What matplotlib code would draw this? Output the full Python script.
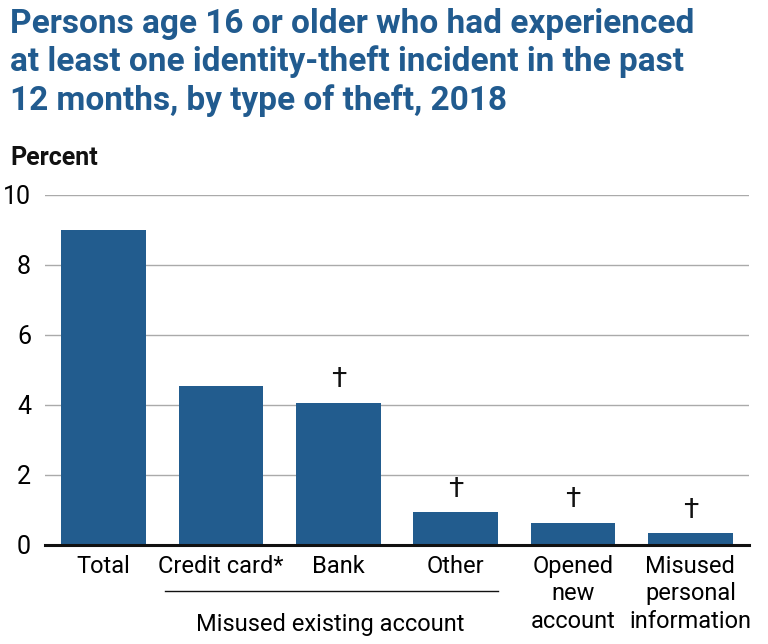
import matplotlib
matplotlib.use("Agg")
import matplotlib.pyplot as plt

plt.rcParams['font.family'] = ['Roboto', 'DejaVu Sans']

categories = ["Total", "Credit card*", "Bank", "Other", "Opened\nnew\naccount", "Misused\npersonal\ninformation"]
values = [9.0, 4.55, 4.05, 0.93, 0.64, 0.33]
dagger = [False, False, True, True, True, True]
yticks = [0, 2, 4, 6, 8, 10]
group_label = "Misused existing account"
group_members = [1, 3]
title = "Persons age 16 or older who had experienced\nat least one identity-theft incident in the past\n12 months, by type of theft, 2018"

bar_color = "#225C8E"
title_color = "#215B8F"

fig = plt.figure(figsize=(7.68, 6.44), dpi=100)
ax = fig.add_axes([45/768, 1-545/644, 704/768, 350/644])

x = list(range(len(categories)))
ax.bar(x, values, width=0.72, color=bar_color, zorder=3)
for xi, v, d in zip(x, values, dagger):
    if d:
        ax.text(xi, v + 0.28, "†", ha="center", va="bottom", fontsize=20, color="#111111")

ax.set_xlim(-0.5, len(categories) - 0.5)
ax.set_ylim(0, 10)
ax.set_yticks(yticks)
ax.set_yticklabels([str(t) for t in yticks], fontsize=18)
ax.yaxis.grid(True, color="#AAAAAA", linewidth=1, zorder=0)
ax.tick_params(axis="y", length=0, pad=10)
ax.tick_params(axis="x", length=0, pad=7)
ax.set_xticks(x)
ax.set_xticklabels(categories, fontsize=17, va="top", linespacing=1.25)
for s in ["top", "right", "left"]:
    ax.spines[s].set_visible(False)
ax.spines["bottom"].set_linewidth(2.2)
ax.spines["bottom"].set_color("#111111")
ax.spines["bottom"].set_zorder(4)

# group bracket
trans = ax.get_xaxis_transform()
g0, g1 = group_members
ax.plot([g0 - 0.5 + 0.02, g1 + 0.36], [-0.13, -0.13], transform=trans, color="#111111", lw=1, clip_on=False)
ax.text((g0 - 0.5 + g1 + 0.36) / 2, -0.195, group_label, transform=trans, ha="center", va="top", fontsize=17)

fig.text(10/768, 1-8/644, title, ha="left", va="top", fontsize=24, fontweight="bold", color=title_color, linespacing=1.22)
fig.text(10/768, 1-146/644, "Percent", ha="left", va="top", fontsize=18, fontweight="bold", color="#111111")

fig.savefig("out.png", dpi=100)
